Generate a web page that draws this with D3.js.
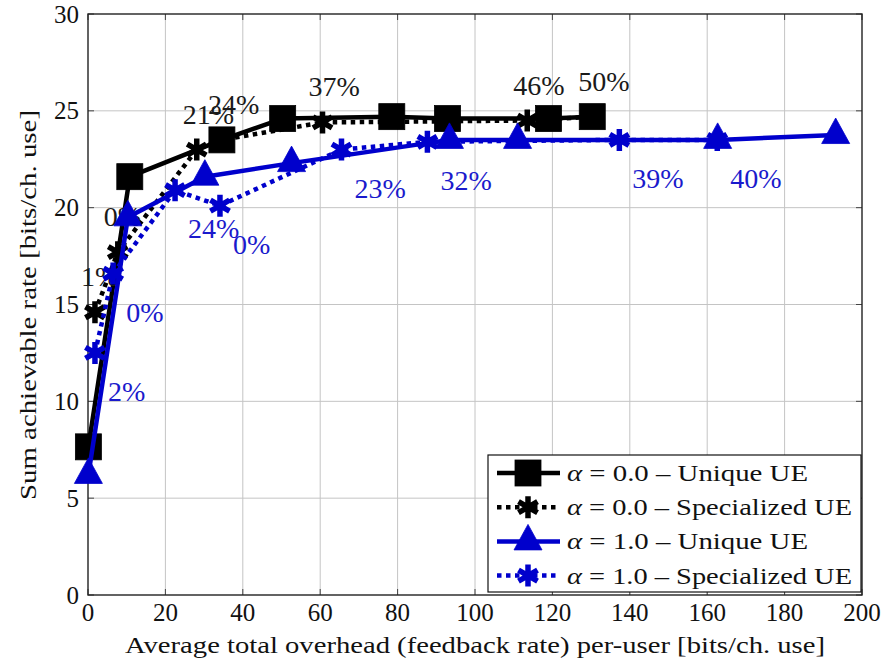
<!DOCTYPE html>
<html><head><meta charset="utf-8">
<script src="https://cdn.jsdelivr.net/npm/d3@7"></script>
<style>html,body{margin:0;padding:0;background:#fff}</style>
</head><body>
<svg id="c" width="886" height="664"></svg>
<script>
// ---- data ----
const xTicks = [0,20,40,60,80,100,120,140,160,180,200];
const yTicks = [0,5,10,15,20,25,30];
const a0UniqueX = [0.1, 10.8, 34.6, 50.3, 78.5, 92.9, 119.0, 130.3];
const a0UniqueY = [7.65, 21.6, 23.5, 24.6, 24.7, 24.6, 24.6, 24.7];
const a0SpecX = [1.8, 7.7, 28.1, 34.6, 60.6, 113.5, 130.3];
const a0SpecY = [14.6, 17.7, 23.0, 23.5, 24.4, 24.5, 24.7];
const a0SpecLabels = ["1%","0%","21%","24%","37%","46%","50%"];
const a1UniqueX = [0.1, 10.3, 30.2, 52.6, 93.4, 111.0, 162.7, 193.2];
const a1UniqueY = [6.2, 19.5, 21.6, 22.3, 23.5, 23.5, 23.5, 23.75];
const a1SpecX = [1.8, 6.5, 22.5, 34.1, 65.5, 87.7, 137.3, 162.6];
const a1SpecY = [12.5, 16.6, 20.9, 20.1, 23.0, 23.4, 23.5, 23.5];
const a1SpecLabels = ["2%","0%","24%","0%","23%","32%","39%","40%"];
const legendLabels = [["0.0","Unique UE"],["0.0","Specialized UE"],["1.0","Unique UE"],["1.0","Specialized UE"]];
const xTitle = "Average total overhead (feedback rate) per-user [bits/ch. use]";
const yTitle = "Sum achievable rate [bits/ch. use]";

// ---- drawing ----
const svg = d3.select("#c");
const BLACK = "#000", BLUE = "#0000cc";
const x = d3.scaleLinear().domain([0,200]).range([88,862]);
const y = d3.scaleLinear().domain([0,30]).range([595,14]);

// grid
const g = svg.append("g");
g.selectAll(".gx").data(xTicks.slice(1,-1)).enter().append("line")
  .attr("x1",d=>x(d)).attr("x2",d=>x(d)).attr("y1",y(0)).attr("y2",y(30))
  .attr("stroke","#c4c4c4").attr("stroke-width",1);
g.selectAll(".gy").data(yTicks.slice(1,-1)).enter().append("line")
  .attr("y1",d=>y(d)).attr("y2",d=>y(d)).attr("x1",x(0)).attr("x2",x(200))
  .attr("stroke","#c4c4c4").attr("stroke-width",1);

// ticks (inside, both sides)
const tk = svg.append("g").attr("stroke","#444").attr("stroke-width",1);
xTicks.forEach(t=>{
  tk.append("line").attr("x1",x(t)).attr("x2",x(t)).attr("y1",y(0)).attr("y2",y(0)-6);
  tk.append("line").attr("x1",x(t)).attr("x2",x(t)).attr("y1",y(30)).attr("y2",y(30)+6);
});
yTicks.forEach(t=>{
  tk.append("line").attr("y1",y(t)).attr("y2",y(t)).attr("x1",x(0)).attr("x2",x(0)+6);
  tk.append("line").attr("y1",y(t)).attr("y2",y(t)).attr("x1",x(200)).attr("x2",x(200)-6);
});

// tick labels
svg.append("g").selectAll("text").data(xTicks).enter().append("text")
  .attr("x",d=>x(d)).attr("y",621).attr("text-anchor","middle")
  .attr("font-size",25).attr("fill","#111").text(d=>d);
svg.append("g").selectAll("text").data(yTicks).enter().append("text")
  .attr("x",79).attr("y",d=>y(d)+8.5).attr("text-anchor","end")
  .attr("font-size",25).attr("fill","#111").text(d=>d);

// axis titles
svg.append("text").attr("x",475).attr("y",653).attr("text-anchor","middle")
  .attr("font-size",23).attr("fill","#111")
  .attr("textLength",700).attr("lengthAdjust","spacingAndGlyphs").text(xTitle);
svg.append("text").attr("transform","translate(36,305) rotate(-90)").attr("text-anchor","middle")
  .attr("font-size",23).attr("fill","#111")
  .attr("textLength",390).attr("lengthAdjust","spacingAndGlyphs").text(yTitle);

// markers
function drawSquare(sel, cx, cy, color){
  sel.append("rect").attr("x",cx-13).attr("y",cy-13).attr("width",26).attr("height",26)
    .attr("fill",color).attr("stroke",color).attr("stroke-width",0.8);
}
function drawTri(sel, cx, cy, color){
  sel.append("path").attr("d",`M${cx},${cy-17}L${cx+14},${cy+8.5}L${cx-14},${cy+8.5}Z`)
    .attr("fill",color).attr("stroke",color).attr("stroke-width",0.8);
}
function drawStar(sel, cx, cy, color){
  const r=11, t=r/2, u=r*Math.sqrt(3)/2;
  sel.append("path").attr("d",`M${cx},${cy-r}L${cx},${cy+r}M${cx-u},${cy-t}L${cx+u},${cy+t}M${cx-u},${cy+t}L${cx+u},${cy-t}`)
    .attr("fill","none").attr("stroke",color).attr("stroke-width",5.5);
}

function series(xs, ys, color, dotted, marker){
  const pts = xs.map((v,i)=>[x(v), y(ys[i])]);
  const sg = svg.append("g");
  sg.append("path").attr("d",d3.line()(pts)).attr("fill","none").attr("stroke",color)
    .attr("stroke-width",4.5).attr("stroke-linejoin","round")
    .attr("stroke-dasharray",dotted?"4.5,4.5":null);
  pts.forEach(p=>marker(sg,p[0],p[1],color));
  return pts;
}

// frame
svg.append("rect").attr("x",x(0)).attr("y",y(30)).attr("width",x(200)-x(0)).attr("height",y(0)-y(30))
  .attr("fill","none").attr("stroke","#222").attr("stroke-width",1.4);

series(a0UniqueX, a0UniqueY, BLACK, false, drawSquare);
const p0 = series(a0SpecX, a0SpecY, BLACK, true, drawStar);
p0.forEach((p,i)=>svg.append("text").attr("x",p[0]-14).attr("y",p[1]-26)
  .attr("font-size",28).attr("fill","#1a1a1a").text(a0SpecLabels[i]));
series(a1UniqueX, a1UniqueY, BLUE, false, drawTri);
const p1 = series(a1SpecX, a1SpecY, BLUE, true, drawStar);
p1.forEach((p,i)=>svg.append("text").attr("x",p[0]+13).attr("y",p[1]+48)
  .attr("font-size",28).attr("fill","#1a1acc").text(a1SpecLabels[i]));

// legend
const lg = svg.append("g");
lg.append("rect").attr("x",488).attr("y",455).attr("width",373).attr("height",137)
  .attr("fill","#fff").attr("stroke","#111").attr("stroke-width",1.2);
const legStyles = [[BLACK,false,drawSquare],[BLACK,true,drawStar],[BLUE,false,drawTri],[BLUE,true,drawStar]];
const legW = [241,285,241,285];
legendLabels.forEach((lab,i)=>{
  const cy = 473 + i*34.2;
  const [c,dot,mk] = legStyles[i];
  lg.append("line").attr("x1",497).attr("x2",560).attr("y1",cy).attr("y2",cy)
    .attr("stroke",c).attr("stroke-width",4.5).attr("stroke-dasharray",dot?"4.5,4.5":null);
  mk(lg,528,cy,c);
  const t = lg.append("text").attr("x",567).attr("y",cy+8)
    .attr("font-size",24).attr("fill","#111")
    .attr("textLength",legW[i]).attr("lengthAdjust","spacingAndGlyphs");
  t.append("tspan").attr("font-style","italic").text("α");
  t.append("tspan").text(" = " + lab[0] + " – " + lab[1]);
});

svg.selectAll("text").style("font-family", '"Liberation Serif"');
</script>
</body></html>
